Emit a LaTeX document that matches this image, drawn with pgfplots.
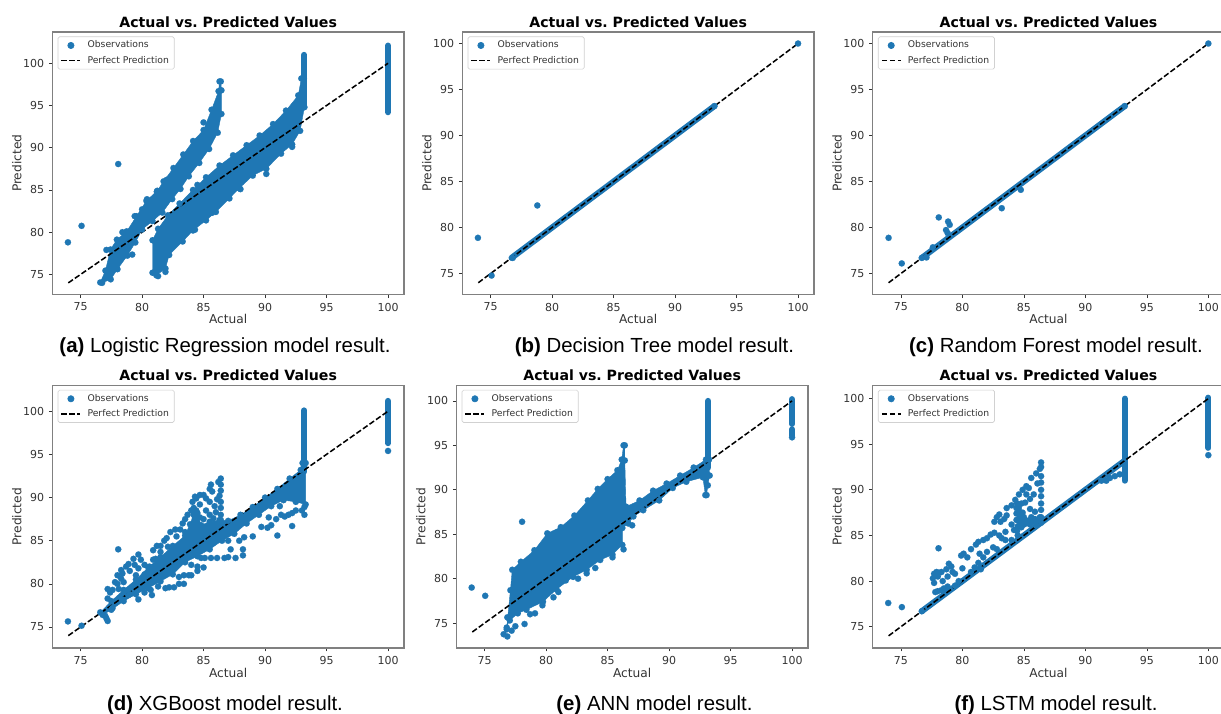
\documentclass[border=0pt]{standalone}
\usepackage{fontspec}
\setmainfont{DejaVu Sans}
\newfontfamily\capfont{Liberation Sans}
\usepackage{pgfplots}
\usepackage{pgfplotstable}
\pgfplotsset{compat=1.18}
\definecolor{tab}{HTML}{1F77B4}
\definecolor{spine}{HTML}{808080}
\definecolor{txt}{HTML}{333333}
\pgfplotstableread{
x y
76.7 76.7
77.0 77.0
77.3 77.3
77.6 77.6
77.9 77.9
78.2 78.2
78.5 78.5
78.8 78.8
79.1 79.1
79.4 79.4
79.7 79.7
80.0 80.0
80.3 80.3
80.6 80.6
80.9 80.9
81.2 81.2
81.5 81.5
81.8 81.8
82.1 82.1
82.4 82.4
82.7 82.7
83.0 83.0
83.3 83.3
83.6 83.6
83.9 83.9
84.2 84.2
84.5 84.5
84.8 84.8
85.1 85.1
85.4 85.4
85.7 85.7
86.0 86.0
86.3 86.3
86.6 86.6
86.9 86.9
87.2 87.2
87.5 87.5
87.8 87.8
88.1 88.1
88.4 88.4
88.7 88.7
89.0 89.0
89.3 89.3
89.6 89.6
89.9 89.9
90.2 90.2
90.5 90.5
90.8 90.8
91.1 91.1
91.4 91.4
91.7 91.7
92.0 92.0
92.3 92.3
92.6 92.6
92.9 92.9
93.2 93.2
}\diag
\pgfplotsset{
 panel/.style={
  scale only axis, width=263.8pt, height=197pt, anchor=south west,
  xmin=72.7, xmax=101.3, xtick={75,80,85,90,95,100}, ytick={75,80,85,90,95,100},
  tick pos=left, tick align=outside, major tick length=2.6pt,
  tick style={draw=txt,line width=0.5pt},
  axis line style={draw=spine,line width=0.9pt},
  /pgf/number format/assume math mode=true,
  ticklabel style={font=\fontsize{8.25}{9}\selectfont,text=txt},
  title={\bfseries Actual vs.\ Predicted Values},
  every axis title/.style={at={(axis description cs:0.5,1.038)},anchor=center,font=\fontsize{10.6}{12}\selectfont,text=black},
  xlabel={Actual}, ylabel={Predicted},
  every axis x label/.style={at={(axis description cs:0.5,-0.0936)},anchor=center,font=\fontsize{9.15}{11}\selectfont,text=txt},
  every axis y label/.style={at={(axis description cs:-0.1012,0.5)},rotate=90,anchor=center,font=\fontsize{9.15}{11}\selectfont,text=txt},
  legend style={at={(0.0153,0.983)},anchor=north west,font=\fontsize{6.94}{8}\selectfont,text=txt,
    draw=black!18,rounded corners=1.2pt,line width=0.5pt,inner xsep=2pt,inner ysep=1.1pt,
    row sep=0.5pt},
  legend cell align=left,
  legend image code/.code={\draw[#1] (0pt,0pt) -- (14.2pt,0pt);\path (17pt,0pt);},
 },
 obs/.style={only marks,mark=*,mark size=2.35pt,mark options={fill=tab,draw=tab,line width=0.1pt,solid},forget plot},
 cloud/.style={fill=tab,draw=tab,line width=0.3pt,mark=*,mark size=2.35pt,mark options={fill=tab,draw=tab,line width=0.1pt,solid},forget plot},
 band/.style={draw=tab,line width=4.5pt,line cap=round,no marks,forget plot},
 perfect/.style={black,line width=1.15pt,dash pattern=on 4.2pt off 1.8pt,no marks},
}
\newcommand{\commonlegend}{%
 \addlegendimage{legend image code/.code={\fill[tab] (7.1pt,0pt) circle (2.35pt);\path (17pt,0pt);}}\addlegendentry{Observations}
 \addlegendimage{perfect}\addlegendentry{Perfect Prediction}
}
\begin{document}
\begin{tikzpicture}[x=0.75pt,y=0.75pt]

% (a)
\begin{axis}[panel,at={(39.225pt,314.475pt)},ymin=72.6,ymax=103.7]
\commonlegend
\addplot[cloud] coordinates {(76.6,74.05)(77.02,75.45)(77.43,77.95)(77.95,79.12)(78.75,80.1)(79.55,81.9)(80.35,83.72)(81.23,84.9)(81.75,86.02)(82.55,87.6)(83.35,89.2)(84.15,90.8)(85,92.1)(85.65,94.5)(86.22,96.7)(86.3,97.85)(86.4,97.85)(86.45,96.8)(86.45,94)(86.15,91.78)(85.45,89.85)(84.65,88.2)(83.8,86.62)(83.12,85.12)(82.45,83.92)(81.65,82.32)(80.85,81.32)(80,80.32)(79.45,78.78)(78.8,77.22)(78,75.62)(77.45,74.42)(76.75,74)};
\addplot[cloud] coordinates {(80.85,75.2)(80.85,79.05)(81.3,80.4)(82.1,82)(83.05,83.4)(84.14,85)(85.2,86.5)(86.3,87.9)(87.4,89.1)(88.5,90.3)(89.56,91.45)(90.65,92.8)(91.7,94.4)(92.7,96.2)(92.95,98.2)(93.15,98.2)(93.2,94.8)(92.85,92)(92.2,90.4)(91.3,89.3)(90.1,87.5)(89,86.7)(87.9,85.2)(87.1,84)(86,82.4)(85.2,81.4)(84.14,80.2)(83.3,78.9)(82.2,77.3)(81.9,75.7)(81.16,74.9)};
\addplot[band] coordinates {(93.18,95)(93.18,101)};
\addplot[band] coordinates {(100,94.2)(100,102.1)};
\addplot[obs] coordinates {(73.97,78.8)(75.08,80.75)(78.06,88.07)(79.2,77.35)(92.2,90.1)(80,82.7)(77.1,77.9)(78.4,80)(79.4,81.9)(80.4,83.9)(81.2,84.8)(82,86.2)(83.4,88.5)(85,93)(85.5,92.5)(81.9,75.3)(81.3,74.8)(85.7,82.3)(88,85.1)(90.1,86.9)(84.3,80.3)(84.5,85.6)};
\addplot[perfect] coordinates {(74,74)(100,100)};
\end{axis}

% (b)
\begin{axis}[panel,at={(346.725pt,314.475pt)},ymin=72.7,ymax=101.25]
\commonlegend
\addplot[band] table {\diag};
\addplot[obs] coordinates {(73.97,78.88)(78.8,82.4)(75.08,74.78)(100,100)(76.8,76.7)(93.2,93.2)};
\addplot[perfect] coordinates {(74,74)(100,100)};
\end{axis}

% (c)
\begin{axis}[panel,at={(654.45pt,314.475pt)},ymin=72.7,ymax=101.25]
\commonlegend
\addplot[band] table {\diag};
\addplot[obs] coordinates {(74,78.88)(75.07,76.1)(78.08,81.1)(78.84,80.65)(78.97,80.3)(78.67,79.73)(78.8,79.4)(83.2,82.1)(84.75,84.1)(77.08,76.75)(77.6,77.85)(100,100)(76.7,76.7)(93.2,93.2)};
\addplot[perfect] coordinates {(74,74)(100,100)};
\end{axis}

% (d)
\begin{axis}[panel,at={(39.225pt,49.5pt)},ymin=72.57,ymax=103]
\commonlegend
\addplot[cloud] coordinates {(76.6,76.7)(77.5,78)(78.5,79.3)(79.5,80.5)(80.5,81.9)(81.5,83.1)(82.5,84.4)(83.5,85.6)(84.2,88)(84.5,88.2)(84.8,86.8)(85.5,87.2)(86.4,87.4)(87,87.3)(88,88)(89,88.9)(90,90)(91,91)(92,92.2)(92.9,93.2)(93.05,94)(93.3,94)(93.3,89.2)(92.5,89.5)(91.5,89.7)(90.5,89)(89.5,88)(88.5,87)(87.5,85.8)(86.5,85)(85.5,84)(84.5,83.2)(83.5,82.5)(82.5,81.1)(81.5,80.3)(80.5,79.5)(79.5,78.8)(78.5,78)(77.5,77)(76.8,76.4)};
\addplot[band] coordinates {(93.18,93)(93.18,100.1)};
\addplot[band] coordinates {(100,96.3)(100,101.2)};
\addplot[obs] coordinates {(86.4,92.2)(86.2,91.8)(85.6,91.5)(85.5,91)(85.7,90.7)(86.4,91.5)(86.4,90.8)(86.3,90.2)(86.4,89.5)(86.4,88.8)(86.4,88)(86.3,87.4)(86.1,89.8)(85.9,89)(86,88.3)(85.8,87.6)(85.5,89.5)(85.2,89.9)(85,90.3)(84.7,90.3)(84.4,89.9)(84.3,90.1)(84.1,89.5)(84.2,88.8)(84.4,88.5)(84.7,89.2)(85.2,88.5)(85.5,88)(85,87.5)(84.7,87.7)(84.3,87.6)(84,88.5)(83.7,88)(83.5,87.5)(83.3,87)(83.9,86.9)(83.1,86.3)(82.7,86.3)(82.3,86)(82.8,85.5)(82,85.3)(81.8,85)(81.5,84.4)(81.2,84.4)(80.9,83.9)(81.5,83.7)(82.1,84.3)(83.5,86)(84.4,86.5)(85,86.5)(85.5,87)(79.3,82.9)(79.7,83.4)(79.9,82.8)(79.4,82.2)(78.9,82.3)(78.7,82)(78.3,81.6)(78.4,81.2)(79,81.5)(79.7,81.8)(80.2,82.2)(80.6,82)(80.9,82.8)(81.1,82.9)(78,81)(78.3,80.6)(78.5,80.2)(77.8,80.2)(78,80)(77.6,79.3)(77.2,79.4)(77.4,79)(77.2,78.3)(78.1,79.4)(78.06,84)(80.7,81.8)(80.2,81.1)(79.5,81)};
\addplot[obs] coordinates {(77.2,75.7)(77,76.3)(77.1,76)(77.6,77.2)(78.4,78.2)(79,78.8)(79.7,78.2)(80.2,79)(80.8,78.7)(80.7,79.3)(81.3,79.7)(81.9,79.5)(82.2,79.6)(82.6,79.6)(83,80)(83.4,80)(83.8,81)(84,81)(84.5,81.5)(84.5,82)(85,81.9)(83.4,81)(83,80.8)(84,82.2)(84.8,83)(85.1,83)(85.6,83)(86.1,83)(86.7,83)(87,83.1)(87.6,83)(88.2,83.3)(88.2,84)(87.2,84)(87.9,85)(87,85)(88.3,85.4)(89,85.5)(89.7,86.6)(90.2,86.5)(90.5,86.8)(91,85.6)(92.2,86.7)(91.3,88)(91.6,87.8)(91.9,88)(92.2,88.2)(92.5,88.5)(93,88.5)(93.2,88)(93.2,88.9)(90.9,87.5)(90.3,87.7)(91.2,89)};
\addplot[obs] coordinates {(73.97,75.65)(75.08,75.15)(100,95.4)};
\addplot[perfect] coordinates {(74,74)(100,100)};
\end{axis}

% (e)
\begin{axis}[panel,at={(342.225pt,49.5pt)},ymin=72.2,ymax=101.75]
\commonlegend
\addplot[cloud] coordinates {(76.8,74.5)(77.1,78.7)(77.25,81)(77.95,81.9)(79.05,83.2)(80.1,85.1)(81.2,85.8)(82.3,87.1)(83.4,88.8)(84.2,90.1)(85,91.2)(85.8,92.2)(86.15,93.4)(86.3,95)(86.4,95)(86.4,93.3)(86.5,88.1)(87.6,88.8)(88.7,89.9)(89.8,90.7)(90.9,91.6)(92,92.5)(93,93.4)(93.25,93.4)(93.3,91.6)(93.15,90.5)(93.05,89.4)(92.95,89.4)(92.75,91.4)(91.4,90.9)(90.3,90.2)(89.2,88.8)(87.9,87.7)(87.1,87)(86.7,86.2)(86.2,85.7)(86.2,83.8)(85.4,82.7)(84.4,82.1)(83.3,81)(82.2,80.2)(80.85,78.8)(79.75,77.4)(78.4,76.5)(77.7,76.1)(77.05,75.3)};
\addplot[band] coordinates {(93.18,92.5)(93.18,100)};
\addplot[band] coordinates {(100,97.4)(100,100.2)};
\addplot[band] coordinates {(100,96.1)(100,96.8)};
\addplot[obs] coordinates {(76.55,73.75)(76.85,73.5)(76.8,74.3)(77.2,74.15)(77.5,74.65)(76.85,75.65)(78.25,74.9)(73.95,79)(75.05,78.07)(78.05,86.4)(78.7,76)(79.1,76.1)(79.7,77)(80.6,77.9)(81,78.5)(81.6,79.8)(82.6,80)(83.3,80.6)(84,81.2)(85.4,82.4)(86.3,83.3)(87,86)(100,95.9)};
\addplot[perfect] coordinates {(74,74)(100,100)};
\end{axis}

% (f)
\begin{axis}[panel,at={(654.45pt,49.5pt)},ymin=72.67,ymax=101.45]
\commonlegend
\addplot[band] table {\diag};
\addplot[cloud] coordinates {(84.45,85.5)(84.45,88.5)(84.8,88.5)(84.85,86.9)(86.3,87)(86.4,86.4)(84.8,85.9)};
\addplot[band] coordinates {(93.2,91)(93.2,100)};
\addplot[band] coordinates {(100,94.6)(100,100.1)};
\addplot[obs] coordinates {(77.6,80.3)(77.7,80.8)(77.9,81)(77.7,79.8)(78,80.5)(78.1,80.9)(78.3,81)(78.7,81.3)(78.9,81.9)(79.1,81.6)(79.2,81)(79.4,80.8)(78.8,80.5)(78.4,80)(78.8,79.4)(79.4,79.5)(79.7,80)(77.8,78.8)(78,78.9)(78.3,79)(78.5,79.2)(79.9,82.8)(80.1,83)(80.4,82.6)(80.7,83.5)(81.1,84)(81.3,84.3)(81.7,84.5)(82,84.7)(82.3,85.1)(82.6,85.3)(83,85)(82.6,86.5)(82.8,87)(83,87.3)(83.1,86.5)(83.4,86.8)(83.6,88)(84,88.3)(84.3,88.9)(84.6,89.5)(84.9,90)(85.2,90.4)(85.4,90.2)(85.6,91.3)(86,91.8)(86.3,92.3)(86.4,93)(86.4,92.5)(86.4,91.5)(86.4,90.8)(86.4,90)(86.4,89.3)(86.4,88.5)(86.4,87.8)(86.4,87)(86.1,90.7)(85.8,89.5)(85.5,89)(85.2,89.5)(85.1,88.6)(85.5,87.9)(85.9,87.6)(84.9,87.5)(85,87)(85.6,87)(85.9,86.8)(85,86.2)(85.5,86.2)(86,86.1)(84.8,86.5)(84.5,86)(84.4,86.7)(84.4,87.4)(84.4,88)(83.6,87.2)(84,86.2)(83.5,85.4)(83.5,84.5)(84,84.5)(84.5,85)(84.2,85.6)(83.2,84.7)(82.8,83.5)(82.5,83.7)(82,83.2)(81.7,82.6)(81.4,83)(81.3,82)(81,81.5)(80.7,81)(80,81.4)(81.5,81.3)(78.06,83.6)(73.97,77.6)(75.08,77.15)};
\addplot[obs] coordinates {(91.3,91)(91.7,91)(92,91.3)(92.4,91.5)(92.8,91.7)(76.7,76.7)(100,93.8)};
\addplot[perfect] coordinates {(74,74)(100,100)};
\end{axis}

\node[font=\capfont\fontsize{15.3}{17}\selectfont,text=black] at (168.75pt,275.25pt) {\textbf{(a)} Logistic Regression model result.};
\node[font=\capfont\fontsize{15.3}{17}\selectfont,text=black] at (490.875pt,275.25pt) {\textbf{(b)} Decision Tree model result.};
\node[font=\capfont\fontsize{15.3}{17}\selectfont,text=black] at (792pt,275.25pt) {\textbf{(c)} Random Forest model result.};
\node[font=\capfont\fontsize{15.3}{17}\selectfont,text=black] at (168.75pt,6.75pt) {\textbf{(d)} XGBoost model result.};
\node[font=\capfont\fontsize{15.3}{17}\selectfont,text=black] at (490.875pt,6.75pt) {\textbf{(e)} ANN model result.};
\node[font=\capfont\fontsize{15.3}{17}\selectfont,text=black] at (792pt,6.75pt) {\textbf{(f)} LSTM model result.};
\pgfresetboundingbox
\path[use as bounding box] (0pt,0pt) rectangle (915.75pt,535.5pt);
\end{tikzpicture}
\end{document}
